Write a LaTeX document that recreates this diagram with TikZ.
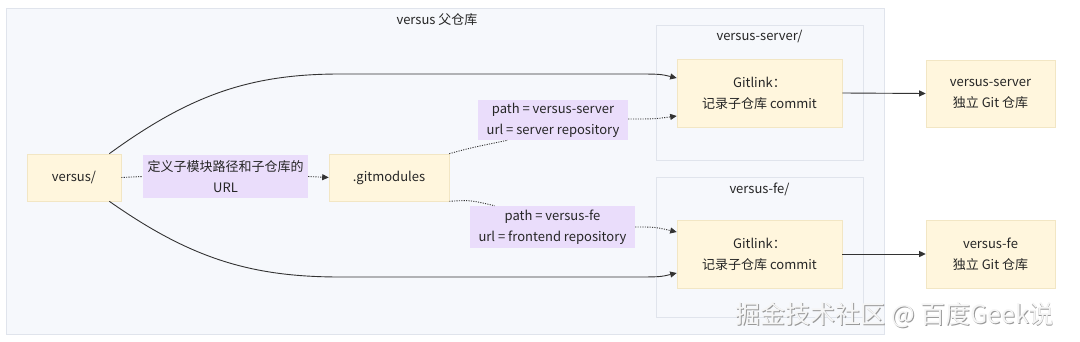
\documentclass[tikz,border=0pt]{standalone}
\usepackage{fontspec}
\setmainfont{Noto Sans CJK SC}
\usetikzlibrary{arrows.meta}
\definecolor{clfill}{HTML}{F6F8FC}
\definecolor{clline}{HTML}{E0E4EC}
\definecolor{ndfill}{HTML}{FFF6DD}
\definecolor{ndline}{HTML}{F2E6C4}
\definecolor{lbfill}{HTML}{EADDFB}
\definecolor{edge}{HTML}{333333}
\tikzset{
  cluster/.style={draw=clline, fill=clfill, line width=0.8pt},
  cltitle/.style={font=\fontsize{13}{16}\selectfont, text=black!85},
  box/.style={draw=ndline, fill=ndfill, line width=0.6pt, align=center, inner sep=0pt,
    font=\fontsize{13}{21}\selectfont, text=black!85},
  lbl/.style={fill=lbfill, align=center, inner sep=0pt,
    font=\fontsize{13}{21}\selectfont, text=black!85},
  solidedge/.style={draw=edge, line width=0.9pt, -{Triangle[length=6.5pt,width=6pt]}},
  plainedge/.style={draw=edge, line width=0.9pt},
  dotedge/.style={draw=edge, line width=0.9pt, dash pattern=on 1.1pt off 1.3pt},
  dotarrow/.style={dotedge, -{Triangle[length=6.5pt,width=6pt]}},
  wm/.style={font=\fontsize{25}{28}\selectfont}
}
\begin{document}
\begin{tikzpicture}[x=1pt,y=-1pt]
\useasboundingbox[fill=white] (0,0) rectangle (1080,342);
% clusters
\draw[cluster] (6,8) rectangle (884,334);
\node[cltitle] (tMain) at (437,20) {versus 父仓库};
\draw[cluster] (656,25) rectangle (863,160);
\node[cltitle] (tS) at (759.5,37) {versus-server/};
\draw[cluster] (656,177) rectangle (863,317);
\node[cltitle] (tF) at (759.5,189) {versus-fe/};
% nodes
\node[box, minimum width=94pt, minimum height=47pt] (versus) at (74,177.5) {versus/};
\node[box, minimum width=120pt, minimum height=47pt] (gm) at (389,177.5) {.gitmodules};
\node[box, minimum width=165pt, minimum height=68pt] (gitS) at (759.5,93) {Gitlink：\\记录子仓库 commit};
\node[box, minimum width=165pt, minimum height=68pt] (gitF) at (759.5,254) {Gitlink：\\记录子仓库 commit};
\node[box, minimum width=129pt, minimum height=67pt] (repS) at (990.5,93.5) {versus-server\\独立 Git 仓库};
\node[box, minimum width=129pt, minimum height=68pt] (repF) at (990.5,254) {versus-fe\\独立 Git 仓库};
% labels
\node[lbl, minimum width=165pt, minimum height=43pt] (lblU) at (225.5,176.5) {定义子模块路径和子仓库的\\URL};
\node[lbl, minimum width=150pt, minimum height=40pt] (lblS) at (553,120) {path = versus-server\\url = server repository};
\node[lbl, minimum width=165pt, minimum height=42pt] (lblF) at (552.5,227) {path = versus-fe\\url = frontend repository};
% solid edges
\draw[solidedge] ([xshift=-12pt]versus.north east) .. controls (190,95) and (250,74) .. (340,74)
  -- (630,74) .. controls (660,74) .. (gitS.west |- 0,78);
\draw[solidedge] ([xshift=-12pt]versus.south east) .. controls (190,258) and (250,277) .. (340,277)
  -- (630,277) .. controls (660,277) .. (gitF.west |- 0,273);
\draw[solidedge] (gitS.east) -- (repS.west);
\draw[solidedge] (gitF.east) -- (repF.west);
% dotted edges
\draw[dotedge] (versus.east) -- (lblU.west);
\draw[dotarrow] (lblU.east) -- (gm.west);
\draw[dotedge] (gm.north east) .. controls (470,148) .. ([xshift=30pt]lblS.south west);
\draw[dotarrow] (lblS.east |- 0,119) .. controls (655,119) .. (gitS.west |- 0,116);
\draw[dotedge] (gm.south east) .. controls (470,200) .. ([xshift=25pt]lblF.north west);
\draw[dotarrow] (lblF.east |- 0,227) .. controls (655,227) .. (gitF.west |- 0,232);
% watermark
\node[wm, text=black!40] (wmS) at (895.7,315.7) {掘金技术社区 @ 百度Geek说};
\node[wm, text=white!96!black] (wm) at (895,315) {掘金技术社区 @ 百度Geek说};
\end{tikzpicture}
\end{document}
